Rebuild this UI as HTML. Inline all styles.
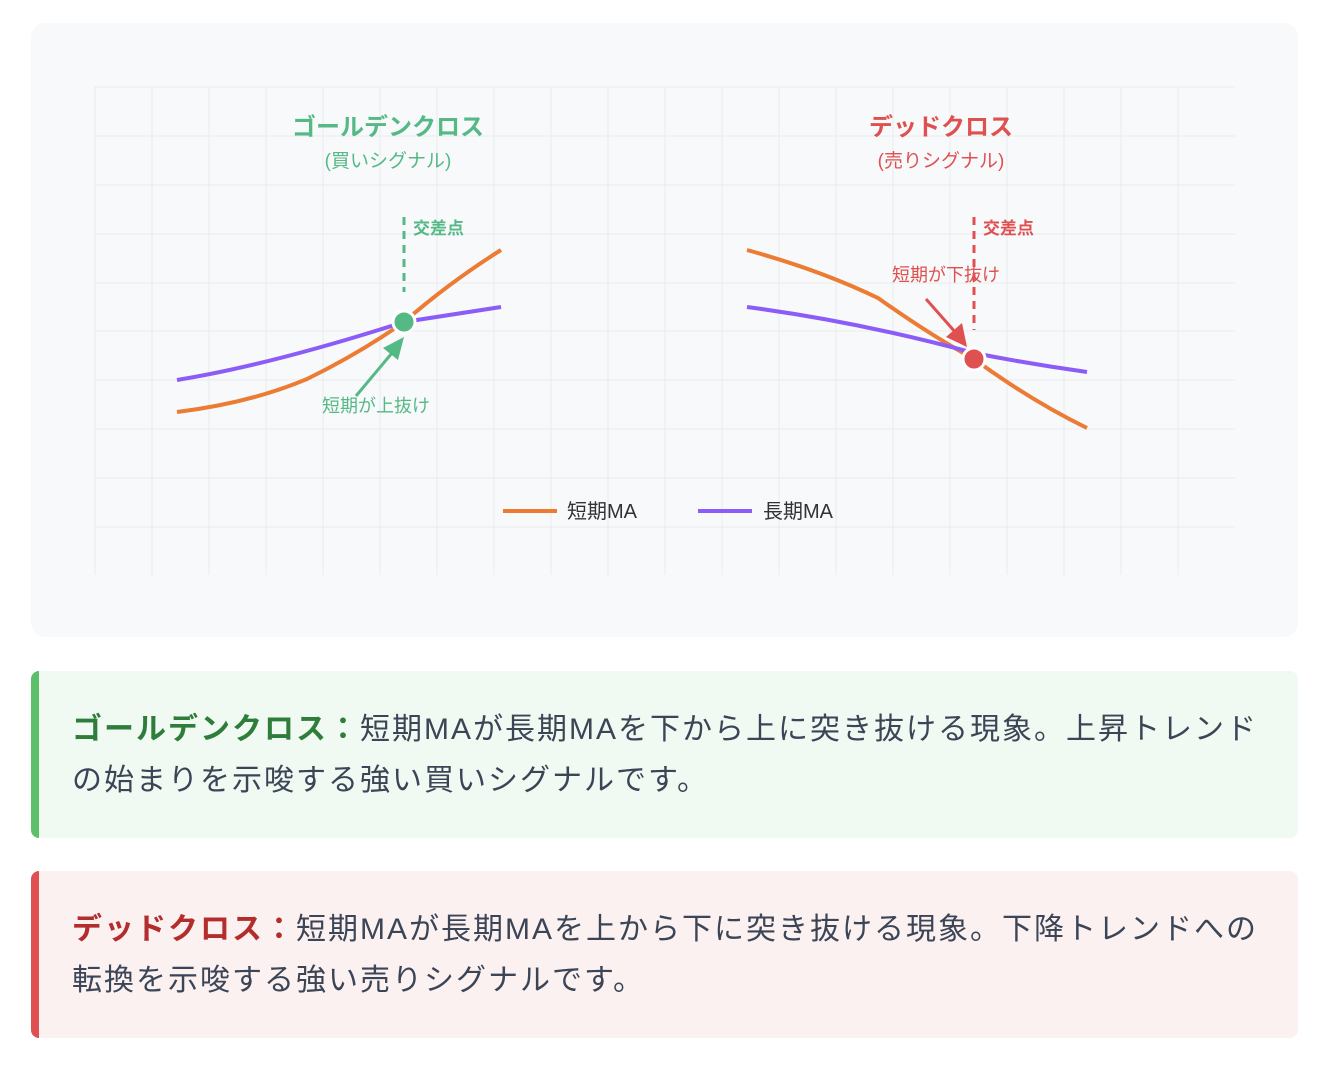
<!DOCTYPE html>
<html><head><meta charset="utf-8"><style>
html,body{margin:0;padding:0;background:#fff;width:1336px;height:1068px;overflow:hidden}
body{font-family:"Liberation Sans","Noto Sans CJK JP",sans-serif;position:relative}
.card{position:absolute;left:31px;top:23px;width:1267px;height:614px;background:#f8f9fb;border-radius:14px}
.box{position:absolute;height:167px;border-radius:8px;font-size:30px;letter-spacing:2px;line-height:51px;color:#3b4556;white-space:nowrap}
.box .in{position:absolute;left:33px;top:33px}
.g{top:671px;background:#f0faf2;border-left:8px solid #5cbf6a;left:31px;width:1259px}
.r{top:871px;background:#fcf1f1;border-left:8px solid #df5050;left:31px;width:1259px}
</style></head><body>
<div class="card"></div>
<svg style="position:absolute;left:0;top:0" width="1336" height="640" font-family="Liberation Sans, Noto Sans CJK JP, sans-serif">
<g stroke="#e8eaee" stroke-width="1">
<line x1="95" y1="87" x2="1235" y2="87"/><line x1="95" y1="136" x2="1235" y2="136"/><line x1="95" y1="185" x2="1235" y2="185"/><line x1="95" y1="234" x2="1235" y2="234"/><line x1="95" y1="283" x2="1235" y2="283"/><line x1="95" y1="331" x2="1235" y2="331"/><line x1="95" y1="380" x2="1235" y2="380"/><line x1="95" y1="429" x2="1235" y2="429"/><line x1="95" y1="478" x2="1235" y2="478"/><line x1="95" y1="527" x2="1235" y2="527"/>
<line x1="95" y1="87" x2="95" y2="575"/><line x1="152" y1="87" x2="152" y2="575"/><line x1="209" y1="87" x2="209" y2="575"/><line x1="266" y1="87" x2="266" y2="575"/><line x1="323" y1="87" x2="323" y2="575"/><line x1="380" y1="87" x2="380" y2="575"/><line x1="437" y1="87" x2="437" y2="575"/><line x1="494" y1="87" x2="494" y2="575"/><line x1="551" y1="87" x2="551" y2="575"/><line x1="608" y1="87" x2="608" y2="575"/><line x1="665" y1="87" x2="665" y2="575"/><line x1="722" y1="87" x2="722" y2="575"/><line x1="779" y1="87" x2="779" y2="575"/><line x1="836" y1="87" x2="836" y2="575"/><line x1="893" y1="87" x2="893" y2="575"/><line x1="950" y1="87" x2="950" y2="575"/><line x1="1007" y1="87" x2="1007" y2="575"/><line x1="1064" y1="87" x2="1064" y2="575"/><line x1="1121" y1="87" x2="1121" y2="575"/><line x1="1178" y1="87" x2="1178" y2="575"/>
</g>
<!-- golden -->
<text x="388" y="135" text-anchor="middle" font-size="24" font-weight="bold" fill="#55b985">ゴールデンクロス</text>
<text x="388" y="167" text-anchor="middle" font-size="19" fill="#55b985">(買いシグナル)</text>
<line x1="404" y1="217" x2="404" y2="292" stroke="#55b985" stroke-width="3" stroke-dasharray="8,6"/>
<text x="413" y="234" font-size="17" font-weight="bold" fill="#55b985">交差点</text>
<path d="M177,412 Q250,403 307,379 Q360,353 404,322 Q450,282 501,250" fill="none" stroke="#ec7c34" stroke-width="4"/>
<path d="M177,380 Q270,365 404,322 Q450,315 501,307" fill="none" stroke="#8b5cf6" stroke-width="4"/>
<line x1="356" y1="396" x2="392" y2="353" stroke="#55b985" stroke-width="3"/>
<polygon points="404,337 383,348 398,360" fill="#55b985"/>
<circle cx="404" cy="322" r="11" fill="#55b985" stroke="#fff" stroke-width="3"/>
<text x="376" y="412" text-anchor="middle" font-size="18" fill="#55b985">短期が上抜け</text>
<!-- dead -->
<text x="941" y="135" text-anchor="middle" font-size="24" font-weight="bold" fill="#df5050">デッドクロス</text>
<text x="941" y="167" text-anchor="middle" font-size="19" fill="#df5050">(売りシグナル)</text>
<line x1="974" y1="217" x2="974" y2="330" stroke="#df5050" stroke-width="3" stroke-dasharray="8,6"/>
<text x="983" y="234" font-size="17" font-weight="bold" fill="#df5050">交差点</text>
<path d="M747,250 Q820,270 878,298 Q930,335 974,359 Q1030,400 1087,428" fill="none" stroke="#ec7c34" stroke-width="4"/>
<path d="M747,307 Q860,322 974,353 Q1030,364 1087,372" fill="none" stroke="#8b5cf6" stroke-width="4"/>
<text x="946" y="281" text-anchor="middle" font-size="18" fill="#df5050">短期が下抜け</text>
<line x1="926" y1="299" x2="956" y2="333" stroke="#df5050" stroke-width="3"/>
<polygon points="967,347 946,337 962,323" fill="#df5050"/>
<circle cx="974" cy="359" r="11" fill="#df5050" stroke="#fff" stroke-width="3"/>
<!-- legend -->
<line x1="503" y1="511" x2="557" y2="511" stroke="#ec7c34" stroke-width="4"/>
<text x="567" y="518" font-size="20" fill="#333">短期MA</text>
<line x1="698" y1="511" x2="752" y2="511" stroke="#8b5cf6" stroke-width="4"/>
<text x="763" y="518" font-size="20" fill="#333">長期MA</text>
</svg>
<div class="box g"><div class="in"><b style="color:#2f7d3a">ゴールデンクロス：</b>短期MAが長期MAを下から上に突き抜ける現象。上昇トレンド<br>の始まりを示唆する強い買いシグナルです。</div></div>
<div class="box r"><div class="in"><b style="color:#b32d2d">デッドクロス：</b>短期MAが長期MAを上から下に突き抜ける現象。下降トレンドへの<br>転換を示唆する強い売りシグナルです。</div></div>
</body></html>
